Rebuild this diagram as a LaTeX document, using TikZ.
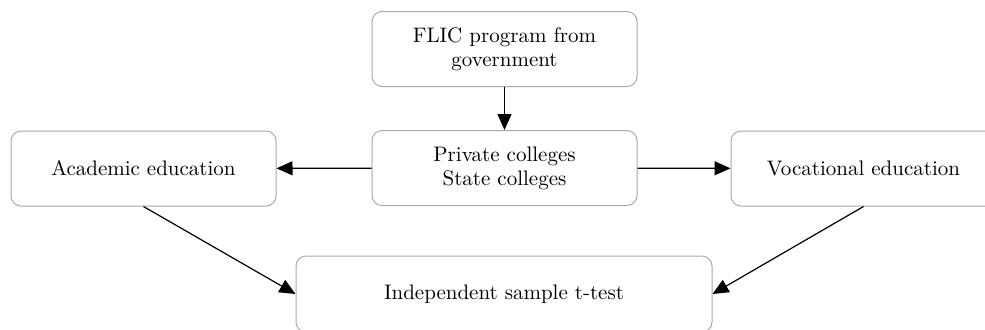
\documentclass[tikz,border=0pt]{standalone}
\usepackage{tikz}
\usetikzlibrary{arrows.meta}
\definecolor{boxGray}{RGB}{170,170,170}

\tikzset{
  flowbox/.style={draw=boxGray, line width=0.5pt, rounded corners=5pt, fill=white,
    minimum width=132.5pt, minimum height=37.5pt, align=center, font=\fontsize{10.5}{12}\selectfont},
  flowarrow/.style={line width=0.6pt, -{Triangle[length=8pt,width=7pt]}}
}

\begin{document}
\begin{tikzpicture}[x=0.5pt, y=-0.5pt]
  \useasboundingbox (0,0) rectangle (985,329);
  \node[flowbox] (flic) at (504.5,49) {FLIC program from\\government};
  \node[flowbox] (colleges) at (504.5,168) {Private colleges\\State colleges};
  \node[flowbox] (academic) at (143.5,168.5) {Academic education};
  \node[flowbox] (vocational) at (863.5,168.5) {Vocational education};
  \node[flowbox, minimum width=208pt, minimum height=38pt] (ttest) at (504,294) {Independent sample t-test};

  \draw[flowarrow] (flic) -- (colleges);
  \draw[flowarrow] (colleges) -- (academic);
  \draw[flowarrow] (colleges) -- (vocational);
  \draw[flowarrow] (academic.south) -- (ttest.west);
  \draw[flowarrow] (vocational.south) -- (ttest.east);
\end{tikzpicture}
\end{document}
